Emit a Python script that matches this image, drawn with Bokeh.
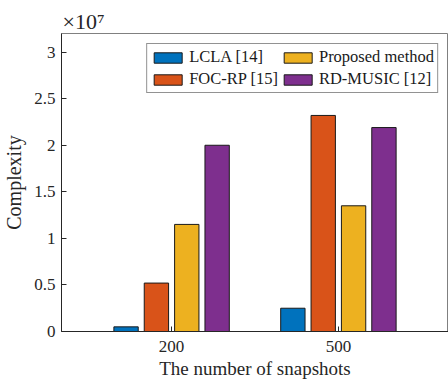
from bokeh.plotting import figure
from bokeh.models import Range1d, FixedTicker, Legend, LegendItem, ColumnDataSource
from bokeh.embed import file_html
from bokeh.resources import INLINE

# Data (complexity in units of 1e7)
categories = ["200", "500"]
series_names = ["LCLA [14]", "FOC-RP [15]", "Proposed method", "RD-MUSIC [12]"]
lcla = [0.05, 0.25]
foc_rp = [0.52, 2.32]
proposed = [1.15, 1.35]
rd_music = [2.0, 2.19]
y_ticks = [0, 0.5, 1, 1.5, 2, 2.5, 3]
y_tick_labels = ["0", "0.5", "1", "1.5", "2", "2.5", "3"]
scale_text = "×10⁷"

colors = ["#0072BD", "#D95319", "#EDB120", "#7E2F8E"]
series = [lcla, foc_rp, proposed, rd_music]

FONT = "Liberation Serif"
AX = "#262626"

p = figure(width=448, height=381, output_backend="svg", toolbar_location=None,
           x_range=Range1d(0.34, 2.66), y_range=Range1d(0, 3.2),
           min_border_left=60, min_border_top=33, min_border_bottom=50, min_border_right=0)
p.grid.visible = False
p.outline_line_color = "#808080"
p.outline_line_width = 1
p.background_fill_color = "white"
p.border_fill_color = "white"

p.title.text = scale_text
p.title.align = "left"
p.title.text_font = FONT
p.title.text_font_size = "22px"
p.title.text_font_style = "normal"
p.title.text_color = "#262626"
p.title.offset = 1
p.title.standoff = 0

n = len(series)
group_w = 0.182
bar_w = 0.146
xs = [i + 1 for i in range(len(categories))]
items = []
for k, (vals, col, name) in enumerate(zip(series, colors, series_names)):
    off = (k - (n - 1) / 2) * group_w
    src = ColumnDataSource(dict(x=[x + off for x in xs], top=vals))
    r = p.vbar(x="x", top="top", width=bar_w, bottom=0, source=src,
               fill_color=col, line_color="#1a1a1a", line_width=1)
    items.append(LegendItem(label=name, renderers=[r]))

def style_axis(ax):
    ax.axis_line_color = AX
    ax.major_tick_line_color = AX
    ax.major_tick_in = 5
    ax.major_tick_out = 0
    ax.minor_tick_line_color = None
    ax.major_label_text_font = FONT
    ax.major_label_text_font_size = "17px"
    ax.major_label_text_color = "#262626"
    ax.axis_label_text_font = FONT
    ax.axis_label_text_font_style = "normal"
    ax.axis_label_text_color = "#262626"

xa = p.xaxis[0]
xa.ticker = FixedTicker(ticks=xs)
xa.major_label_overrides = {x: c for x, c in zip(xs, categories)}
xa.axis_label = "The number of snapshots"
style_axis(xa)
xa.axis_label_text_font_size = "19px"
xa.major_label_standoff = 9
xa.axis_label_standoff = 3

ya = p.yaxis[0]
ya.ticker = FixedTicker(ticks=y_ticks)
ya.major_label_overrides = {t: l for t, l in zip(y_ticks, y_tick_labels)}
ya.axis_label = "Complexity"
style_axis(ya)
ya.axis_label_text_font_size = "20px"
ya.major_label_standoff = 6
ya.axis_label_standoff = 6

legend = Legend(items=items, location="top_right", nrows=2, orientation="vertical")
legend.label_text_font = FONT
legend.label_text_font_size = "16.5px"
legend.label_text_color = "#1a1a1a"
legend.glyph_width = 35
legend.glyph_height = 13
legend.label_standoff = 4
legend.label_height = 16
legend.spacing = 2
legend.padding = 3
legend.margin = 10
legend.border_line_color = "#262626"
legend.border_line_width = 1
legend.background_fill_alpha = 1
p.add_layout(legend)

with open("out.html", "w") as f:
    f.write(file_html(p, INLINE))
